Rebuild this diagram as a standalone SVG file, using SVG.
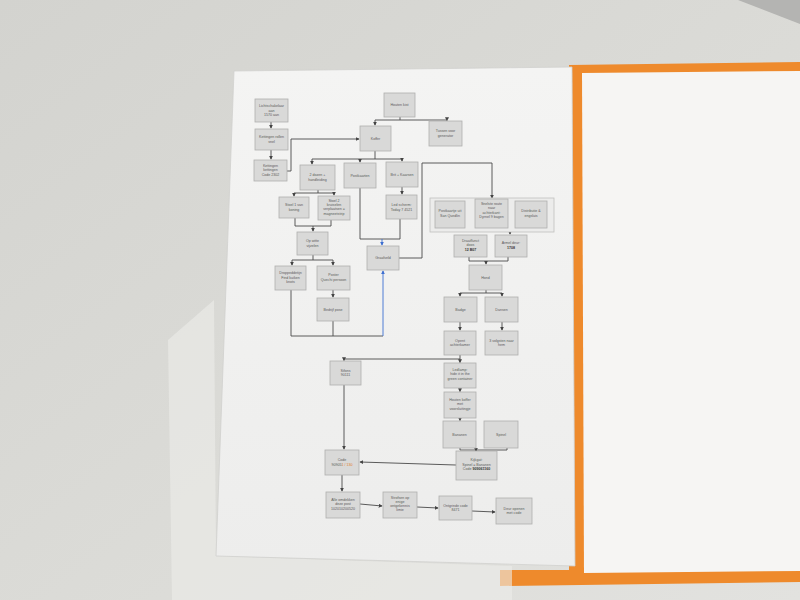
<svg xmlns="http://www.w3.org/2000/svg" width="800" height="600" viewBox="0 0 800 600">
<defs>
<linearGradient id="bg" x1="0" y1="0" x2="1" y2="1">
<stop offset="0" stop-color="#d3d3cf"/>
<stop offset="0.6" stop-color="#dcdcd8"/>
<stop offset="1" stop-color="#e2e2df"/>
</linearGradient>
<linearGradient id="paper" x1="0" y1="0" x2="0" y2="1">
<stop offset="0" stop-color="#f4f4f3"/>
<stop offset="1" stop-color="#ededec"/>
</linearGradient>
<marker id="ar" viewBox="0 0 6 6" refX="5" refY="3" markerWidth="4" markerHeight="4" markerUnits="userSpaceOnUse" orient="auto">
<path d="M0,0 L6,3 L0,6 Z" fill="#444"/>
</marker>
<marker id="arb" viewBox="0 0 6 6" refX="5" refY="3" markerWidth="4" markerHeight="4" markerUnits="userSpaceOnUse" orient="auto">
<path d="M0,0 L6,3 L0,6 Z" fill="#3d6fd1"/>
</marker>
<style>
.box{fill:#d9d9d8;stroke:#b0b0ae;stroke-width:0.8}
.grp{fill:#ececeb;stroke:#c0c0be;stroke-width:0.8}
.t{font-family:"Liberation Sans",Arial,sans-serif;font-size:3.6px;fill:#5a5a5a;text-anchor:middle}
.b{font-weight:bold;fill:#333}
.c{stroke:#4a4a4a;stroke-width:0.9;fill:none}
.a{marker-end:url(#ar)}
.bl{stroke:#3d6fd1;marker-end:url(#arb)}
</style>
</defs>
<rect width="800" height="600" fill="url(#bg)"/>
<polygon points="738,0 800,0 800,24" fill="#b4b4b2"/>
<!-- orange folder -->
<polygon points="569,65 800,62 800,582 500,586 500,570 569,570" fill="#ee8a2c"/>
<polygon points="582,73 800,71 800,571 584,573" fill="#f6f5f3"/>
<!-- plastic sleeve -->
<polygon points="214,300 168,340 172,600 512,600 512,566 216,556" fill="#ececea" opacity="0.6"/>
<!-- paper -->
<polygon points="234,71 572,67 575,566 216,556" fill="url(#paper)" stroke="#d0d0ce" stroke-width="0.8"/>

<g id="connectors">
<path class="c a" d="M271,122 V128"/>
<path class="c a" d="M271,150 V159"/>
<path class="c a" d="M287,171 H291 V139 H359"/>
<path class="c" d="M400,117 V120 M375,120 H447"/>
<path class="c a" d="M375,120 V125"/>
<path class="c a" d="M447,120 V120.5"/>
<path class="c" d="M375,151 V159 M312,159 H402"/>
<path class="c a" d="M312,159 V164"/>
<path class="c a" d="M360,159 V162"/>
<path class="c a" d="M402,159 V161"/>
<path class="c" d="M318,190 V193 M294,193 H334"/>
<path class="c a" d="M294,193 V196"/>
<path class="c a" d="M334,193 V195"/>
<path class="c" d="M295,218 V226 H331 V220"/>
<path class="c a" d="M313,226 V231"/>
<path class="c" d="M313,255 V260 M292,260 H333"/>
<path class="c a" d="M292,260 V265"/>
<path class="c a" d="M333,260 V265"/>
<path class="c a" d="M333,290 V297"/>
<path class="c a" d="M402,187 V194"/>
<path class="c" d="M360,188 V239 H400 V219"/>
<path class="c bl" d="M382,239 V245"/>
<path class="c" d="M291,290 V336 H383 M333,321 V336"/>
<path class="c bl" d="M383,336 V271"/>
<path class="c a" d="M399,258 H422 V163 H492 V198"/>
<path class="c" d="M490,228 V231 H531 V228"/>
<path class="c a" d="M510,231 V234"/>
<path class="c" d="M469,257 V261 H508 V257"/>
<path class="c a" d="M486,261 V264"/>
<path class="c" d="M486,290 V293 M460,293 H502"/>
<path class="c a" d="M460,293 V296"/>
<path class="c a" d="M502,293 V296"/>
<path class="c a" d="M460,322 V330"/>
<path class="c a" d="M502,322 V330"/>
<path class="c" d="M460,355 V359 M344,359 H460"/>
<path class="c a" d="M344,359 V360.5"/>
<path class="c a" d="M460,359 V362.5"/>
<path class="c a" d="M460,388 V391.5"/>
<path class="c a" d="M460,418 V420.5"/>
<path class="c" d="M460,448 V450 H507 V448"/>
<path class="c a" d="M476,450 V451"/>
<path class="c a" d="M456,465 L360,462"/>
<path class="c a" d="M344,385 V449"/>
<path class="c a" d="M342,475 V491"/>
<path class="c a" d="M360,504 L382,506"/>
<path class="c a" d="M417,507 L438,508"/>
<path class="c a" d="M472,511 L495,512"/>
</g>

<g id="n1"><rect class="box" x="255" y="99" width="33" height="23"/><text class="t" x="271.5" y="107">Lichtschakelaar<tspan x="271.5" dy="4.5">aan</tspan><tspan x="271.5" dy="4.5">1570 aan</tspan></text></g>
<g id="n2"><rect class="box" x="255" y="129" width="33" height="21"/><text class="t" x="271.5" y="138">Kettingen rollen<tspan x="271.5" dy="4.5">snel</tspan></text></g>
<g id="n3"><rect class="box" x="254" y="160" width="33" height="21"/><text class="t" x="270.5" y="166.5">Kettingen<tspan x="270.5" dy="4.5">kettingen</tspan><tspan x="270.5" dy="4.5">Code 2302</tspan></text></g>
<g id="n4"><rect class="box" x="384" y="93" width="31" height="24"/><text class="t" x="399.5" y="106">Houten kist</text></g>
<g id="n5"><rect class="box" x="360" y="126" width="31" height="25"/><text class="t" x="375.5" y="139.5">Koffer</text></g>
<g id="n6"><rect class="box" x="429" y="121" width="33" height="25"/><text class="t" x="445.5" y="132">Tussen voor<tspan x="445.5" dy="4.5">generator</tspan></text></g>
<g id="n7"><rect class="box" x="300" y="165" width="35" height="25"/><text class="t" x="317.5" y="176">2 dozen +<tspan x="317.5" dy="4.5">handleiding</tspan></text></g>
<g id="n8"><rect class="box" x="344" y="163" width="32" height="25"/><text class="t" x="360" y="176.5">Postkaarten</text></g>
<g id="n9"><rect class="box" x="386" y="162" width="32" height="25"/><text class="t" x="402" y="175.5">Brit + Kaarsen</text></g>
<g id="n10"><rect class="box" x="279" y="197" width="30" height="21"/><text class="t" x="294" y="206">Stoel 1 van<tspan x="294" dy="4.5">koning</tspan></text></g>
<g id="n11"><rect class="box" x="318" y="196" width="32" height="24"/><text class="t" x="334" y="202">Stoel 2<tspan x="334" dy="4.2">kruiselen</tspan><tspan x="334" dy="4.2">verplaatsen =</tspan><tspan x="334" dy="4.2">magneetstrip</tspan></text></g>
<g id="n12"><rect class="box" x="386" y="195" width="31" height="24"/><text class="t" x="401.5" y="206">Led scherm:<tspan x="401.5" dy="4.5">Today 7 4521</tspan></text></g>
<g id="n13"><rect class="box" x="297" y="232" width="31" height="23"/><text class="t" x="312.5" y="242">Op witte<tspan x="312.5" dy="4.5">vijzelen</tspan></text></g>
<g id="n14"><rect class="box" x="367" y="246" width="32" height="24"/><text class="t" x="383" y="259">Graafveld</text></g>
<g id="n15"><rect class="box" x="275" y="266" width="31" height="24"/><text class="t" x="290.5" y="274">Droppeddetijn<tspan x="290.5" dy="4.5">Find kuiken</tspan><tspan x="290.5" dy="4.5">knots</tspan></text></g>
<g id="n16"><rect class="box" x="317" y="266" width="33" height="24"/><text class="t" x="333.5" y="276">Poster<tspan x="333.5" dy="4.5">Quechi persoon</tspan></text></g>
<g id="n17"><rect class="box" x="317" y="298" width="32" height="23"/><text class="t" x="333" y="310.5">Bedrijf pose</text></g>
<g id="n18"><rect class="grp" x="430" y="198" width="124" height="34"/></g>
<g id="n18a"><rect class="box" x="435" y="201" width="30" height="27"/><text class="t" x="450" y="212">Postkaartje uit<tspan x="450" dy="4.5">San Quedlin</tspan></text></g>
<g id="n18b"><rect class="box" x="475" y="199" width="33" height="29"/><text class="t" x="491.5" y="205">Snelste route<tspan x="491.5" dy="4.3">naar</tspan><tspan x="491.5" dy="4.3">achterkant:</tspan><tspan x="491.5" dy="4.3">Dyrnel 9 bagen</tspan></text></g>
<g id="n18c"><rect class="box" x="515" y="201" width="32" height="27"/><text class="t" x="531" y="212">Distributie &amp;<tspan x="531" dy="4.5">engsluis</tspan></text></g>
<g id="n19"><rect class="box" x="454" y="235" width="33" height="22"/><text class="t" x="470.5" y="242">Draaiflunct<tspan x="470.5" dy="4.3">doos</tspan><tspan x="470.5" dy="4.3" class="b">12 B07</tspan></text></g>
<g id="n20"><rect class="box" x="495" y="235" width="32" height="22"/><text class="t" x="511" y="244">Armel deur:<tspan x="511" dy="4.5" class="b">1708</tspan></text></g>
<g id="n21"><rect class="box" x="469" y="265" width="33" height="25"/><text class="t" x="485.5" y="278.5">Hond</text></g>
<g id="n22"><rect class="box" x="444" y="297" width="33" height="25"/><text class="t" x="460.5" y="310.5">Badge</text></g>
<g id="n23"><rect class="box" x="485" y="297" width="33" height="25"/><text class="t" x="501.5" y="310.5">Dansen</text></g>
<g id="n24"><rect class="box" x="444" y="331" width="32" height="24"/><text class="t" x="460" y="341.5">Opent<tspan x="460" dy="4.5">achterkamer</tspan></text></g>
<g id="n25"><rect class="box" x="485" y="331" width="33" height="24"/><text class="t" x="501.5" y="341.5">3 volgsten naar<tspan x="501.5" dy="4.5">hem</tspan></text></g>
<g id="n26"><rect class="box" x="330" y="361" width="31" height="24"/><text class="t" x="345.5" y="371.5">Sifons<tspan x="345.5" dy="4.5">90111</tspan></text></g>
<g id="n27"><rect class="box" x="444" y="363" width="32" height="25"/><text class="t" x="460" y="370.5">Ledlamp:<tspan x="460" dy="4.5">hide it in the</tspan><tspan x="460" dy="4.5">green container</tspan></text></g>
<g id="n28"><rect class="box" x="444" y="392" width="32" height="26"/><text class="t" x="460" y="400.5">Houten koffer<tspan x="460" dy="4.5">met</tspan><tspan x="460" dy="4.5">voorsluitingje</tspan></text></g>
<g id="n29"><rect class="box" x="443" y="421" width="33" height="27"/><text class="t" x="459.5" y="435.5">Bananen</text></g>
<g id="n30"><rect class="box" x="484" y="421" width="34" height="27"/><text class="t" x="501" y="435.5">Spinel</text></g>
<g id="n31"><rect class="box" x="456" y="451" width="41" height="29"/><text class="t" x="476.5" y="461">Kijkgat:<tspan x="476.5" dy="4.5">Spinel = Bananen</tspan><tspan x="476.5" dy="4.5">Code <tspan class="b">909061160</tspan></tspan></text></g>
<g id="n32"><rect class="box" x="325" y="450" width="34" height="25"/><text class="t" x="342" y="461">Code<tspan x="342" dy="4.5">90905<tspan fill="#e0792a">1 / 130</tspan></tspan></text></g>
<g id="n33"><rect class="box" x="326" y="492" width="34" height="26"/><text class="t" x="343" y="500.5">Alle omdekken<tspan x="343" dy="4.5">deze post</tspan><tspan x="343" dy="4.5">102010200520</tspan></text></g>
<g id="n34"><rect class="box" x="383" y="492" width="34" height="26"/><text class="t" x="400" y="498.5">Strofsen op<tspan x="400" dy="4.3">enige</tspan><tspan x="400" dy="4.3">ontgekennis</tspan><tspan x="400" dy="4.3">limie</tspan></text></g>
<g id="n35"><rect class="box" x="439" y="496" width="33" height="24"/><text class="t" x="455.5" y="506.5">Ontgrinde code<tspan x="455.5" dy="4.5">8471</tspan></text></g>
<g id="n36"><rect class="box" x="496" y="498" width="36" height="26"/><text class="t" x="514" y="509.5">Deur openen<tspan x="514" dy="4.5">met code</tspan></text></g>
</svg>
